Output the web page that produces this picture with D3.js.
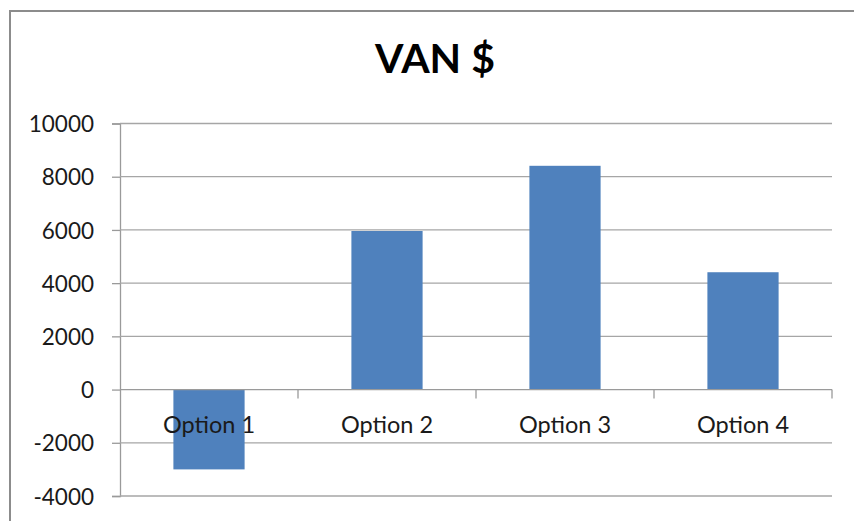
<!DOCTYPE html>
<meta charset="utf-8">
<script src="https://d3js.org/d3.v7.min.js"></script>
<style>
  body { margin: 0; background: #fff; }
  text { font-family: Lato, "Open Sans", sans-serif; }
</style>
<div id="chart"></div>
<script>

  // data
  var categories = ["Option 1", "Option 2", "Option 3", "Option 4"];
  var values = [-3000, 5960, 8410, 4410];
  var yTicks = [-4000, -2000, 0, 2000, 4000, 6000, 8000, 10000];
  var title = "VAN $";

  var W = 854, H = 521;
  var plot = {left: 120, right: 832, top: 123.5, bottom: 496};

  var svg = d3.select("#chart").append("svg")
    .attr("width", W)
    .attr("height", H);

  // chart frame (runs off the right and bottom edges)
  svg.append("rect")
    .attr("x", 10).attr("y", 11)
    .attr("width", 880).attr("height", 540)
    .attr("fill", "none")
    .attr("stroke", "#8c8c8c")
    .attr("stroke-width", 2);

  svg.append("text")
    .attr("x", 435).attr("y", 73)
    .attr("text-anchor", "middle")
    .style("font-size", "41px")
    .style("font-weight", "bold")
    .text(title);

  var x = d3.scaleBand()
    .domain(categories)
    .range([plot.left, plot.right])
    .paddingInner(0.6)
    .paddingOuter(0.3);

  var y = d3.scaleLinear()
    .domain([-4000, 10000])
    .range([plot.bottom, plot.top]);

  // y axis (plain hyphen for negatives, like the original)
  var yAxis = svg.append("g")
    .attr("transform", "translate(" + plot.left + ",0)")
    .call(d3.axisLeft(y).tickValues(yTicks).tickSize(8).tickPadding(18)
      .tickFormat(function (d) { return String(d); }));
  yAxis.select(".domain").attr("stroke", "#9a9a9a").attr("stroke-width", 1.3);
  yAxis.selectAll(".tick line").attr("stroke", "#9a9a9a").attr("stroke-width", 1.3);
  yAxis.selectAll(".tick text")
    .attr("fill", "#1a1a1a")
    .style("font-size", "22.5px")
    .attr("dy", "0.36em");

  // gridlines
  svg.append("g").selectAll("line")
    .data(yTicks.filter(function (d) { return d !== 0; }))
    .enter().append("line")
    .attr("x1", plot.left).attr("x2", plot.right)
    .attr("y1", function (d) { return y(d); })
    .attr("y2", function (d) { return y(d); })
    .attr("stroke", "#a6a6a6")
    .attr("stroke-width", 1.3);

  // bars
  svg.append("g").selectAll("rect")
    .data(values)
    .enter().append("rect")
    .attr("x", function (d, i) { return x(categories[i]); })
    .attr("width", x.bandwidth())
    .attr("y", function (d) { return y(Math.max(0, d)); })
    .attr("height", function (d) { return Math.abs(y(d) - y(0)); })
    .attr("fill", "#4f81bd");

  // category axis at zero
  var boundaries = categories.map(function (c) { return x(c) - x.step() * x.paddingInner() / 2 + x.step(); });
  var xAxis = svg.append("g");
  xAxis.append("line")
    .attr("x1", plot.left).attr("x2", plot.right)
    .attr("y1", y(0)).attr("y2", y(0))
    .attr("stroke", "#9a9a9a").attr("stroke-width", 1.3);
  xAxis.selectAll(".sep")
    .data(boundaries)
    .enter().append("line")
    .attr("class", "sep")
    .attr("x1", function (d) { return d; })
    .attr("x2", function (d) { return d; })
    .attr("y1", y(0)).attr("y2", y(0) + 9)
    .attr("stroke", "#9a9a9a").attr("stroke-width", 1.3);
  xAxis.selectAll(".lab")
    .data(categories)
    .enter().append("text")
    .attr("class", "lab")
    .attr("x", function (d) { return x(d) + x.bandwidth() / 2; })
    .attr("y", y(0) + 43)
    .attr("text-anchor", "middle")
    .attr("fill", "#1a1a1a")
    .style("font-size", "23.5px")
    .text(function (d) { return d; });

</script>
